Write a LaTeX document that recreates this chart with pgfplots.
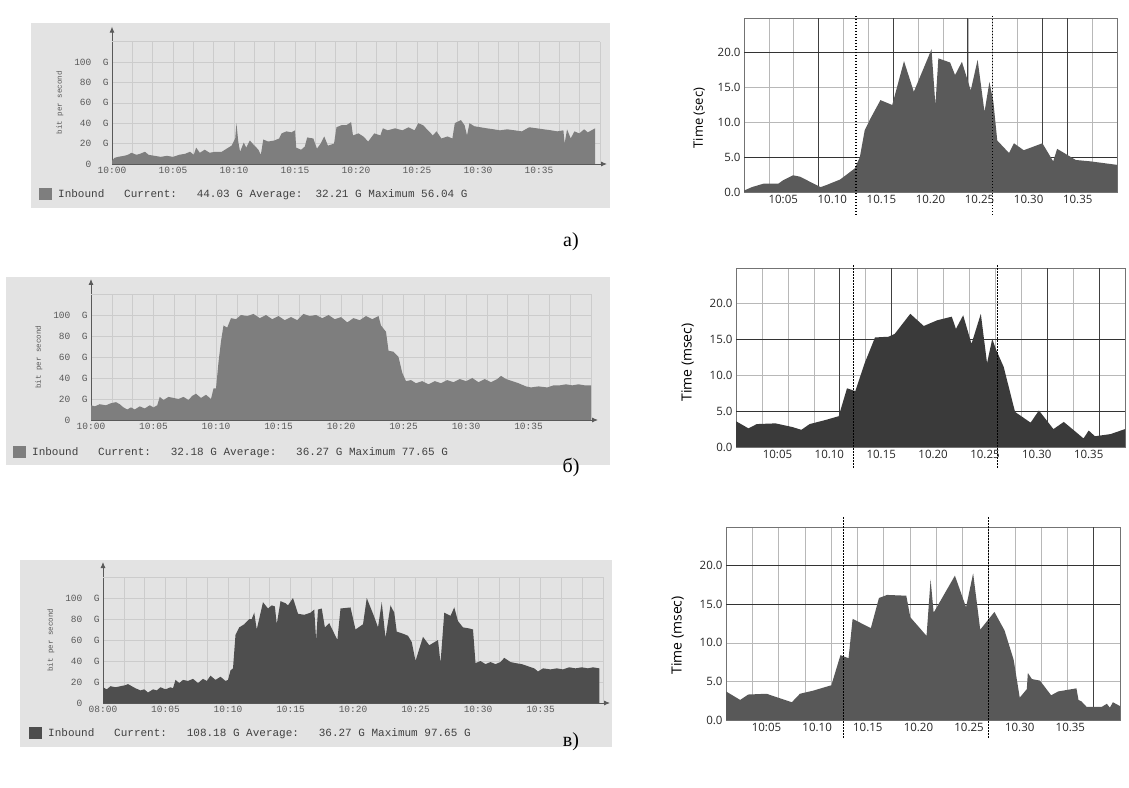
\documentclass[border=0pt]{standalone}
\usepackage{fontspec}
\setmainfont{Liberation Serif}
\newfontfamily\osans{Open Sans}
\newfontfamily\mono{Liberation Mono}
\usepackage{pgfplots}
\pgfplotsset{compat=1.18}
\usetikzlibrary{arrows.meta}

\definecolor{boxbg}{HTML}{E3E3E3}
\definecolor{fillA}{HTML}{7E7E7E}
\definecolor{fillC}{HTML}{4E4E4E}
\definecolor{rA}{HTML}{5A5A5A}
\definecolor{rB}{HTML}{3A3A3A}
\definecolor{rC}{HTML}{585858}

\pgfplotsset{
 leftpanel/.style={
   scale only axis, xmin=0, xmax=40, ymin=0, ymax=120,
   axis x line=bottom, axis y line=left,
   axis line style={draw=black!65, line width=0.9pt},
   x axis line style={-{Latex[length=6pt,width=5pt]}, shorten >=-7pt},
   y axis line style={-{Latex[length=6pt,width=5pt]}, shorten >=-15pt},
   xtick={0,5,...,35},
   minor xtick={1.6667,3.3333,6.6667,8.3333,11.6667,13.3333,16.6667,18.3333,21.6667,23.3333,26.6667,28.3333,31.6667,33.3333,36.6667,38.3333,40},
   ytick={0,20,...,100},
   yticklabels={0\phantom{\ \ G},20\ \ G,40\ \ G,60\ \ G,80\ \ G,100\ \ G},
   extra y ticks={120}, extra y tick labels={}, extra y tick style={grid=major},
   xmajorgrids, xminorgrids, ymajorgrids,
   major grid style={draw=black!20, line width=0.5pt},
   minor grid style={draw=black!20, line width=0.5pt},
   major tick length=0pt, minor tick length=0pt,
   tick label style={font=\mono\fontsize{9.5}{11}\selectfont, text=black!65},
   ylabel={bit per second},
   ylabel style={font=\mono\fontsize{7.5}{8}\selectfont, text=black!65},
   ylabel shift=4pt,
   legend style={draw=none, fill=none, font=\mono\fontsize{11}{12}\selectfont, text=black!75, anchor=west, inner sep=0pt},
   legend image code/.code={\fill[##1] (0pt,-6pt) rectangle (13pt,6pt);},
 },
 rightpanel/.style={
   scale only axis, ymin=0, ymax=25, clip=false,
   axis line style={draw=black!55, line width=0.7pt},
   xtick={5,10,...,35}, xticklabels={10:05,10.10,10.15,10.20,10.25,10.30,10.35},
   ytick={0,5,...,20}, yticklabels={0.0,5.0,10.0,15.0,20.0},
   ymajorgrids, xminorgrids,
   major grid style={draw=black!28, line width=0.6pt},
   minor grid style={draw=black!28, line width=0.6pt},
   extra x tick labels={}, extra y tick labels={},
   extra x tick style={grid=major, major grid style={draw=black!75, line width=0.7pt}},
   extra y tick style={grid=major, major grid style={draw=black!80, line width=0.8pt}},
   major tick length=0pt, minor tick length=0pt,
   tick label style={font=\osans\fontsize{11.5}{13}\selectfont, text=black!85},
   ylabel style={font=\osans\fontsize{14}{16}\selectfont},
 },
 vdot/.style={black, line width=1.2pt, dash pattern=on 1.3pt off 1.7pt, forget plot},
}

\begin{document}
\begin{tikzpicture}
\useasboundingbox (0pt,0pt) rectangle (1129pt,787pt);
% grey frames of the left graphs
\fill[boxbg] (31pt,579pt) rectangle (610pt,764pt);
\fill[boxbg] (6pt,322pt) rectangle (610pt,510pt);
\fill[boxbg] (20pt,40pt) rectangle (612pt,227pt);

%================ LEFT a
\begin{axis}[leftpanel, at={(112pt,623pt)}, anchor=south west, width=488pt, height=122.4pt,
  xticklabels={10:00,10:05,10:10,10:15,10:20,10:25,10:30,10:35},
  legend style={at={(-0.1496,-0.245)}}]
\addplot[fill=fillA, draw=none] table {
0 3
0.2 6
0.5 7
1.0 8
1.3 9
1.6 11
2.0 9
2.3 10
2.7 12
3.0 9
3.5 8
4.0 7
4.5 8
5.0 7
5.5 9
6.0 10
6.4 12
6.7 9
6.9 16
7.2 11
7.6 14
8.0 11
8.5 12
9.0 12
9.4 15
9.8 18
10.1 25
10.2 40
10.35 22
10.5 12
10.8 21
11.0 16
11.3 23
11.6 19
12.0 14
12.2 9
12.4 24
12.8 22
13.3 23
13.7 25
13.9 30
14.3 32
14.7 31
15.0 33
15.1 16
15.5 14
15.8 17
16.0 26
16.5 25
16.8 15
17.1 20
17.4 27
17.7 18
18.2 20
18.4 36
18.8 38
19.2 38
19.6 41
19.75 28
20.2 30
20.6 27
21.0 22
21.5 30
22.0 28
22.2 35
22.6 33
23.2 35
23.8 33
24.3 36
24.8 33
25.1 40
25.5 38
25.9 33
26.3 28
26.6 32
27.0 25
27.5 27
27.9 25
28.1 40
28.6 43
28.9 38
29.1 28
29.3 40
29.7 37
30.2 36
30.7 35
31.3 34
31.8 33
32.4 34
33.0 33
33.6 32
34.2 36
34.8 35
35.4 34
36.0 33
36.5 32
37.0 33
37.1 20
37.3 34
37.6 25
37.9 32
38.3 30
38.7 34
39.0 31
39.3 33
39.6 35
} \closedcycle;
\addlegendentry{\hspace{4pt}Inbound\ \ \ Current:\ \ \ 44.03 G Average:\ \ 32.21 G Maximum 56.04 G}
\end{axis}

%================ LEFT b
\begin{axis}[leftpanel, at={(91pt,367pt)}, anchor=south west, width=500pt, height=126pt,
  xticklabels={10:00,10:05,10:10,10:15,10:20,10:25,10:30,10:35},
  legend style={at={(-0.156,-0.254)}}]
\addplot[fill=fillA, draw=none] table {
0 14
0.3 13
0.7 15
1.2 14
1.6 16
2.0 17
2.3 15
2.6 12
2.9 10
3.2 12
3.5 10
3.9 13
4.3 11
4.7 14
5.0 12
5.3 14
5.5 22
5.8 19
6.2 22
6.6 21
7.0 20
7.4 22
7.8 19
8.1 23
8.4 25
8.8 21
9.2 24
9.6 20
9.8 30
10.0 30
10.2 55
10.4 75
10.6 90
10.9 88
11.2 97
11.6 96
12.0 100
12.5 99
13.0 101
13.5 97
14.0 100
14.5 96
15.0 99
15.5 95
16.0 98
16.5 95
17.0 101
17.5 99
18.0 100
18.5 97
19.0 100
19.5 96
20.0 98
20.5 93
21.0 97
21.5 95
22.0 99
22.5 96
23.0 99
23.2 90
23.6 84
23.8 66
24.2 65
24.6 60
24.9 45
25.2 37
25.6 38
26.0 35
26.5 37
27.0 34
27.5 37
28.0 35
28.5 38
29.0 36
29.5 39
30.0 37
30.5 40
31.0 36
31.5 39
32.0 36
32.5 39
32.8 42
33.2 39
33.7 37
34.2 35
34.8 32
35.2 31
35.8 32
36.5 31
37.0 33
37.5 33
38.0 34
38.5 33
39.0 34
39.5 33
40.0 33
} \closedcycle;
\addlegendentry{\hspace{4pt}Inbound\ \ \ Current:\ \ \ 32.18 G Average:\ \ \ 36.27 G Maximum 77.65 G}
\end{axis}

%================ LEFT c
\begin{axis}[leftpanel, at={(103pt,84pt)}, anchor=south west, width=500pt, height=126pt,
  xticklabels={08:00,10:05,10:10,10:15,10:20,10:25,10:30,10:35},
  legend style={at={(-0.148,-0.238)}}]
\addplot[fill=fillC, draw=none] table {
0 15
0.3 13
0.6 16
1.0 15
1.4 16
1.8 17
2.0 18
2.3 16
2.6 14
3.0 12
3.3 13
3.6 10
4.0 13
4.3 12
4.6 15
5.0 13
5.4 15
5.6 14
5.8 22
6.1 19
6.4 22
6.8 21
7.2 23
7.6 19
8.0 23
8.3 21
8.6 26
9.0 22
9.4 25
9.8 21
10.0 22
10.2 31
10.4 33
10.6 65
10.9 72
11.3 75
11.7 80
11.9 80
12.1 86
12.3 70
12.8 96
13.2 90
13.5 93
13.75 92
13.9 75
14.2 97
14.6 95
14.8 93
15.2 100
15.6 85
16.1 84
16.6 86
16.9 89
17.05 60
17.2 89
17.5 90
17.75 72
18.1 76
18.75 60
19.0 90
19.8 91
20.2 70
20.8 75
21.1 100
21.7 82
22.0 72
22.3 96
22.6 62
23.0 93
23.3 86
23.5 68
24.0 66
24.4 64
24.7 58
25.0 40
25.6 63
26.1 55
26.8 60
27.0 38
27.3 86
27.8 83
28.1 91
28.4 78
28.8 72
29.3 71
29.6 70
29.8 38
30.2 40
30.6 37
31.0 39
31.4 37
31.8 39
32.1 43
32.6 39
33.0 38
33.5 37
34.0 35
34.5 33
34.8 30
35.2 33
35.8 32
36.3 33
36.8 32
37.3 34
37.8 33
38.3 34
38.8 33
39.2 34
39.7 33
} \closedcycle;
\addlegendentry{\hspace{4pt}Inbound\ \ \ Current:\ \ \ 108.18 G Average:\ \ \ 36.27 G Maximum 97.65 G}
\end{axis}

%================ RIGHT a
\begin{axis}[rightpanel, at={(744pt,595pt)}, anchor=south west, width=373pt, height=174pt,
  xmin=1, xmax=39,
  minor xtick={3.533,6.067,8.6,11.133,13.667,16.2,18.733,21.267,23.8,26.333,28.867,31.4,33.933,36.467},
  extra x ticks={8.6,16.2,23.8,31.4,33.933}, extra y ticks={5,20},
  ylabel={Time (sec)}, ylabel style={font=\osans\fontsize{13}{15}\selectfont, at={(ticklabel cs:0.425)}},
  ylabel shift=6pt]
\addplot[fill=rA, draw=none] table {
1.0 0.2
1.8 0.7
3.0 1.2
4.5 1.2
5.0 1.7
6.0 2.4
6.7 2.2
8.8 0.7
9.4 1.0
10.8 1.8
12.3 3.4
12.8 5.0
13.3 8.9
13.9 10.6
14.9 13.2
16.1 12.5
17.3 18.8
18.3 14.4
20.1 20.5
20.5 12.5
20.8 19.2
22.0 18.6
22.5 16.8
23.2 18.7
24.1 14.6
24.8 19.0
25.5 11.5
26.0 15.8
26.4 13.0
26.8 7.4
28.0 5.6
28.5 7.0
29.5 6.0
31.4 7.0
32.5 4.4
32.9 6.2
34.8 4.6
36.3 4.4
39.0 3.9
} \closedcycle;
\addplot[vdot] coordinates {(12.4,-3.3) (12.4,25.5)};
\addplot[vdot] coordinates {(26.3,-3.3) (26.3,25.5)};
\end{axis}

%================ RIGHT b
\begin{axis}[rightpanel, at={(736pt,340pt)}, anchor=south west, width=389pt, height=179pt,
  xmin=1, xmax=38.5,
  minor xtick={3.5,6,8.5,11,13.5,16,18.5,21,23.5,26,28.5,31,33.5,36},
  extra x ticks={11,16,31,36}, extra y ticks={5,15},
  ylabel={Time (msec)}, ylabel style={at={(ticklabel cs:0.472)}},
  ylabel shift=9pt]
\addplot[fill=rB, draw=none] table {
1.0 3.6
2.2 2.6
3.0 3.2
4.8 3.3
6.4 2.8
7.3 2.4
8.1 3.2
8.9 3.5
9.7 3.8
10.9 4.3
11.7 8.2
12.5 7.8
13.4 11.7
14.4 15.3
15.7 15.4
16.3 15.8
17.8 18.6
19.1 16.9
20.4 17.7
21.8 18.2
22.2 16.5
22.9 18.4
23.7 14.4
24.6 18.6
25.2 11.7
25.7 15.1
26.1 13.5
26.8 11.2
27.9 4.9
29.4 3.4
30.2 5.1
31.6 2.5
32.6 3.5
34.5 1.2
35.0 2.3
35.6 1.5
37.1 1.8
38.5 2.5
} \closedcycle;
\addplot[vdot] coordinates {(12.3,-2.9) (12.3,25.4)};
\addplot[vdot] coordinates {(26.2,-2.9) (26.2,25.4)};
\end{axis}

%================ RIGHT c
\begin{axis}[rightpanel, at={(726pt,67pt)}, anchor=south west, width=394pt, height=193pt,
  xmin=1, xmax=39.9,
  minor xtick={3.593,6.187,8.78,11.373,13.967,16.56,19.153,21.747,24.34,26.933,29.527,32.12,34.713,37.307},
  extra x ticks={37.307}, extra y ticks={15,20},
  ylabel={Time (msec)}, ylabel style={at={(ticklabel cs:0.438)}},
  ylabel shift=9pt]
\addplot[fill=rC, draw=none] table {
1.0 3.7
2.4 2.6
3.2 3.3
5.0 3.4
7.5 2.3
8.3 3.4
9.6 3.8
11.4 4.5
12.3 8.4
13.1 8.0
13.5 13.1
15.3 11.9
16.1 15.8
16.9 16.2
18.8 16.1
19.2 13.3
20.8 10.9
21.2 18.2
21.5 13.9
23.6 18.7
24.7 14.6
25.4 19.0
26.1 11.7
27.5 14.0
28.5 11.6
29.4 7.8
30.0 2.9
30.7 4.0
30.8 6.1
31.2 5.3
32.0 5.1
33.1 3.2
33.8 3.7
35.6 4.1
35.8 2.6
36.1 2.4
36.6 1.7
38.1 1.7
38.6 2.1
38.9 1.6
39.2 2.3
39.9 1.8
} \closedcycle;
\addplot[vdot] coordinates {(12.6,-2.3) (12.6,26.3)};
\addplot[vdot] coordinates {(26.9,-2.3) (26.9,26.3)};
\end{axis}

\node[font=\fontsize{20}{22}\selectfont] at (571pt,545pt) {а)};
\node[font=\fontsize{20}{22}\selectfont] at (571pt,320pt) {б)};
\node[font=\fontsize{20}{22}\selectfont] at (571pt,45pt) {в)};
\end{tikzpicture}
\end{document}
